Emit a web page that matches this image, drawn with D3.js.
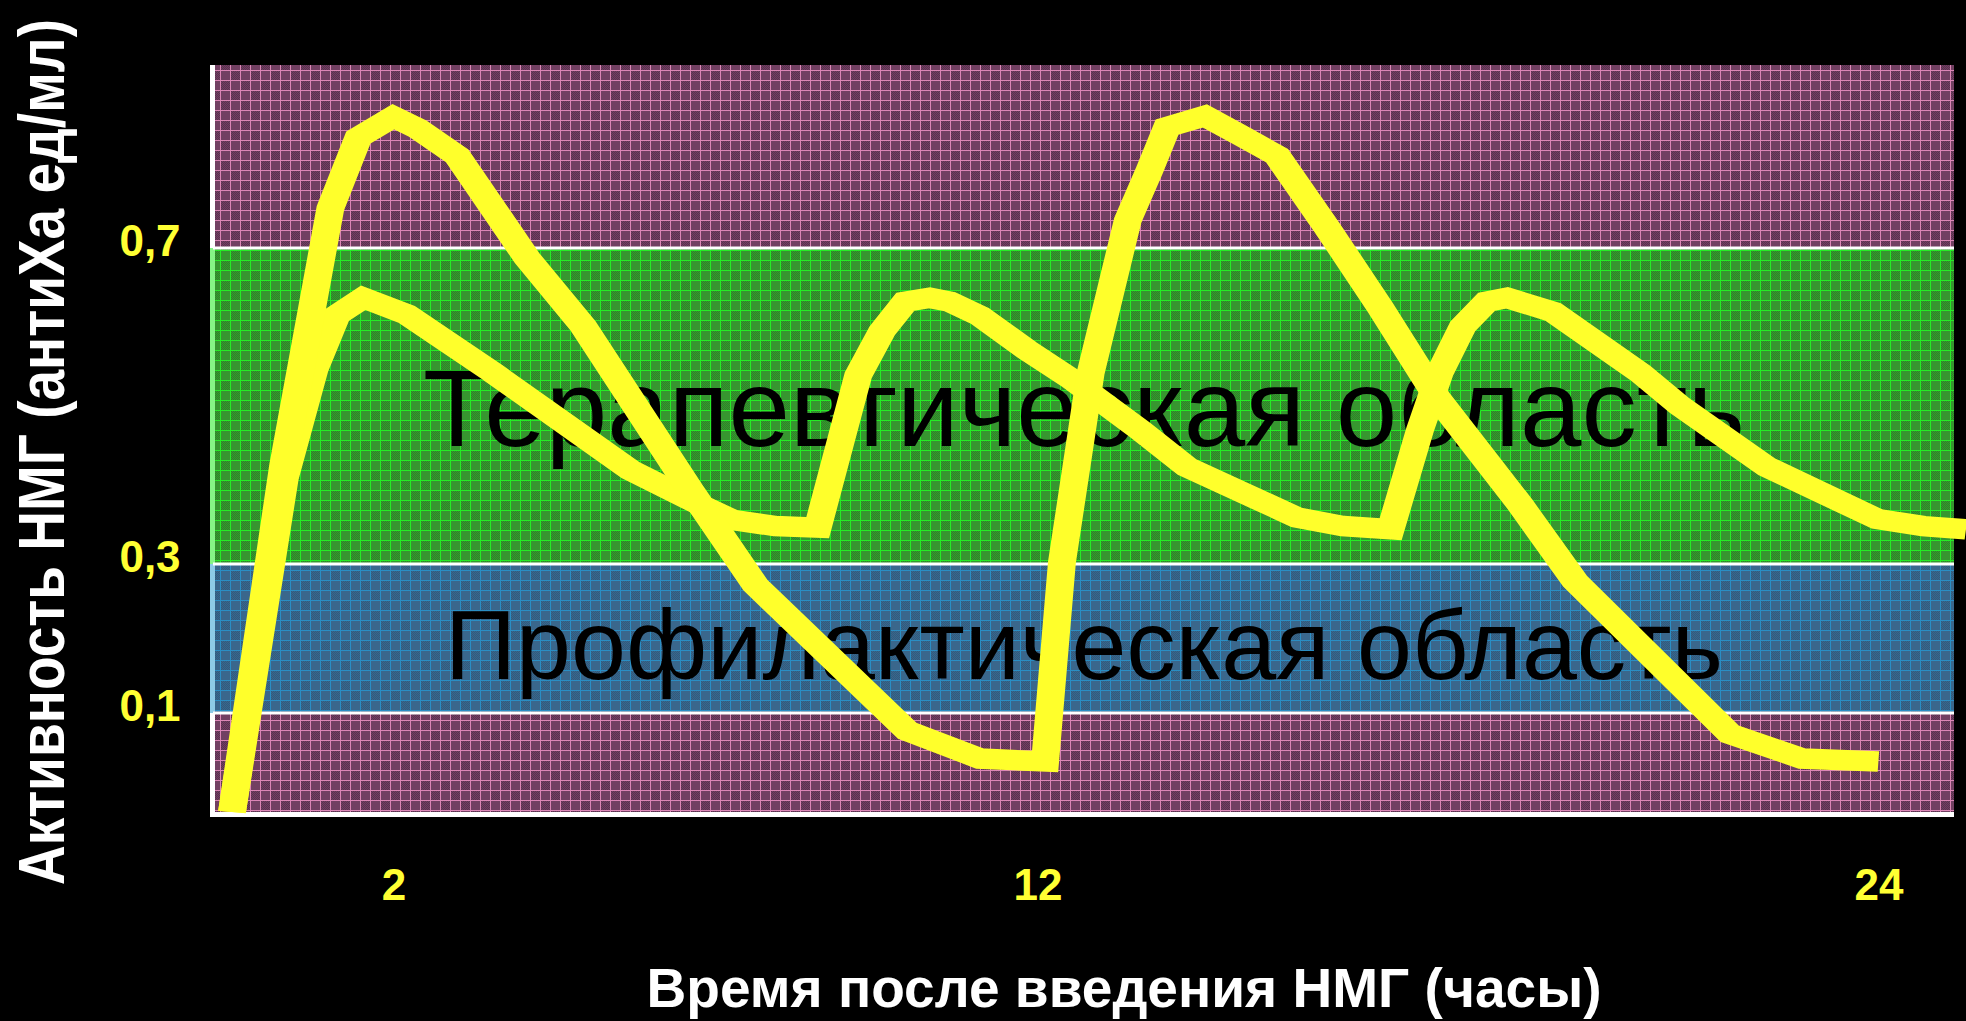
<!DOCTYPE html>
<html>
<head>
<meta charset="utf-8">
<script src="https://cdn.jsdelivr.net/npm/d3@7"></script>
<style>
  body { margin: 0; background: #000; }
  svg { display: block; font-family: 'Liberation Sans', Arial, sans-serif; }
</style>
</head>
<body>
<svg id="chart" width="1966" height="1021"></svg>
<script>
// Axis ticks
var xTicks = [2, 12, 24];
var yTicks = [0.1, 0.3, 0.7];
var yTickLabels = ['0,1', '0,3', '0,7'];

// Activity bands (lower / upper limit of each one)
var bandLimits = [0, 0.1, 0.3, 0.7, 0.93];
var bandKinds = ['pink', 'blue', 'green', 'pink'];
var bandLabels = ['', 'Профилактическая область', 'Терапевтическая область', ''];

// Higher curve: time (hours) and activity (anti-Xa U/ml)
var hoursHigh = [0, 0.64, 1.23, 1.58, 2.02, 2.40, 3.01, 4.10, 4.97, 6.63, 7.64, 10.0, 11.13, 12.13,
  12.37, 12.78, 13.31, 13.62, 13.87, 14.41, 14.91, 15.44, 16.15, 16.91, 17.72, 18.91, 19.69, 21.90, 22.93, 24.02];
var activityHigh = [0.0, 0.425, 0.750, 0.839, 0.865, 0.850, 0.816, 0.687, 0.601, 0.394, 0.272, 0.082, 0.054, 0.051,
  0.302, 0.542, 0.735, 0.798, 0.852, 0.866, 0.842, 0.816, 0.726, 0.625, 0.511, 0.375, 0.277, 0.079, 0.054, 0.051];

// Lower curve
var hoursLow = [0, 0.66, 1.03, 1.31, 1.64, 2.23, 3.57, 5.70, 6.78, 7.28, 7.95, 8.61, 9.24, 9.61, 9.97, 10.35,
  10.66, 11.13, 11.86, 12.49, 13.48, 14.15, 15.72, 16.38, 17.06, 17.48, 17.76, 18.09, 18.43, 18.72, 19.38,
  20.62, 21.19, 22.43, 24.0, 24.66, 25.27];
var activityLow = [0.0, 0.409, 0.546, 0.615, 0.637, 0.616, 0.542, 0.419, 0.375, 0.356, 0.348, 0.346, 0.539,
  0.595, 0.632, 0.637, 0.632, 0.614, 0.571, 0.535, 0.470, 0.423, 0.359, 0.348, 0.344, 0.470, 0.542, 0.601,
  0.632, 0.637, 0.619, 0.542, 0.500, 0.423, 0.357, 0.348, 0.344];

var svg = d3.select('#chart');
var plotLeft = 213, plotRight = 1954;

// Scales (the slide is not evenly spaced, so piecewise scales)
var xScale = d3.scaleLinear().domain([0, 2, 12, 24]).range([232, 392, 1036, 1877]);
var yScale = d3.scaleLinear().domain(bandLimits).range([812, 713, 564, 248, 65]);

// Background
svg.append('rect').attr('width', 1966).attr('height', 1021).attr('fill', '#000');

// Hatched patterns for the bands
var colors = {
  pink:  { base: '#724062', line: '#dc86b6', dot: '#5a3050', edge: '#ffffff' },
  green: { base: '#379630', line: '#25ec25', dot: '#2e8428', edge: '#86f486' },
  blue:  { base: '#3a678c', line: '#2a8ec4', dot: '#315b7e', edge: '#8ecbe6' }
};
var defs = svg.append('defs');
Object.keys(colors).forEach(function (k) {
  var c = colors[k];
  var dither = defs.append('pattern')
    .attr('id', 'dither-' + k)
    .attr('width', 2).attr('height', 2)
    .attr('patternUnits', 'userSpaceOnUse');
  dither.append('rect').attr('width', 1).attr('height', 1).attr('fill', c.dot);
  dither.append('rect').attr('x', 1).attr('y', 1).attr('width', 1).attr('height', 1).attr('fill', c.dot);

  var p = defs.append('pattern')
    .attr('id', 'band-' + k)
    .attr('width', 20).attr('height', 20)
    .attr('patternUnits', 'userSpaceOnUse');
  p.append('rect').attr('width', 20).attr('height', 20).attr('fill', c.base);
  // checker cells
  p.append('rect').attr('x', 1).attr('y', 1).attr('width', 9).attr('height', 9).attr('fill', 'url(#dither-' + k + ')');
  p.append('rect').attr('x', 11).attr('y', 11).attr('width', 9).attr('height', 9).attr('fill', 'url(#dither-' + k + ')');
  // grid lines
  [0, 10].forEach(function (o) {
    p.append('rect').attr('x', 0).attr('y', o).attr('width', 20).attr('height', 1).attr('fill', c.line);
    p.append('rect').attr('x', o).attr('y', 0).attr('width', 1).attr('height', 20).attr('fill', c.line);
  });
});

// Band rectangles
var bands = bandKinds.map(function (kind, i) {
  return { kind: kind, lo: bandLimits[i], hi: bandLimits[i + 1], label: bandLabels[i] };
});

svg.selectAll('.band')
  .data(bands).enter()
  .append('rect')
  .attr('class', 'band')
  .attr('x', plotLeft)
  .attr('y', function (d) { return yScale(d.hi); })
  .attr('width', plotRight - plotLeft)
  .attr('height', function (d) { return yScale(d.lo) - yScale(d.hi); })
  .attr('fill', function (d) { return 'url(#band-' + d.kind + ')'; });

// Axis lines (white)
svg.append('rect').attr('x', 210).attr('y', yScale(bandLimits[4])).attr('width', 5)
  .attr('height', yScale(0) - yScale(bandLimits[4]) + 5).attr('fill', '#fff');
svg.append('rect').attr('x', 210).attr('y', yScale(0)).attr('width', plotRight - 210)
  .attr('height', 5).attr('fill', '#fff');

// Light left edge of the green and blue bands
svg.selectAll('.band-edge')
  .data(bands.filter(function (d) { return d.kind !== 'pink'; })).enter()
  .append('rect')
  .attr('class', 'band-edge')
  .attr('x', 210)
  .attr('y', function (d) { return yScale(d.hi); })
  .attr('width', 5)
  .attr('height', function (d) { return yScale(d.lo) - yScale(d.hi); })
  .attr('fill', function (d) { return colors[d.kind].edge; });

// White separators between bands
svg.selectAll('.sep')
  .data(yTicks).enter()
  .append('rect')
  .attr('class', 'sep')
  .attr('x', plotLeft)
  .attr('y', function (d) { return yScale(d) - 1.5; })
  .attr('width', plotRight - plotLeft)
  .attr('height', 3)
  .attr('fill', '#fff');

// Band names
var labelSizes = { blue: 99, green: 110 };
svg.selectAll('.band-label')
  .data(bands.filter(function (d) { return d.label; })).enter()
  .append('text')
  .attr('class', 'band-label')
  .attr('x', 1084)
  .attr('y', function (d) { return (yScale(d.lo) + yScale(d.hi)) / 2 + 40; })
  .attr('text-anchor', 'middle')
  .attr('font-size', function (d) { return labelSizes[d.kind]; })
  .attr('textLength', function (d) { return d.kind === 'green' ? 1322 : 1278; })
  .attr('lengthAdjust', 'spacingAndGlyphs')
  .attr('fill', '#000')
  .text(function (d) { return d.label; });

// Curves (slide is stretched horizontally, so strokes are wider on steep parts)
var stretch = 1.36;
var line = d3.line()
  .x(function (d) { return xScale(d.h) / stretch; })
  .y(function (d) { return yScale(d.v); });

var series = [
  hoursLow.map(function (h, i) { return { h: h, v: activityLow[i] }; }),
  hoursHigh.map(function (h, i) { return { h: h, v: activityHigh[i] }; })
];

svg.append('g')
  .attr('transform', 'scale(' + stretch + ',1)')
  .selectAll('path')
  .data(series).enter()
  .append('path')
  .attr('d', line)
  .attr('fill', 'none')
  .attr('stroke', '#ffff2b')
  .attr('stroke-width', 20.5)
  .attr('stroke-linejoin', 'miter')
  .attr('stroke-linecap', 'butt');

// Tick labels
svg.selectAll('.ytick')
  .data(yTicks).enter()
  .append('text')
  .attr('class', 'ytick')
  .attr('x', 150)
  .attr('y', function (d) { return yScale(d) - 8; })
  .attr('dominant-baseline', 'central')
  .attr('text-anchor', 'middle')
  .attr('font-size', 44)
  .attr('font-weight', 'bold')
  .attr('fill', '#ffff33')
  .text(function (d, i) { return yTickLabels[i]; });

svg.selectAll('.xtick')
  .data(xTicks).enter()
  .append('text')
  .attr('class', 'xtick')
  .attr('x', function (d) { return xScale(d) + 2; })
  .attr('y', 900)
  .attr('text-anchor', 'middle')
  .attr('font-size', 44)
  .attr('font-weight', 'bold')
  .attr('fill', '#ffff33')
  .text(function (d) { return d; });

// Axis titles
svg.append('text')
  .attr('x', 1124)
  .attr('y', 1007)
  .attr('text-anchor', 'middle')
  .attr('font-size', 55)
  .attr('font-weight', 'bold')
  .attr('textLength', 955)
  .attr('lengthAdjust', 'spacingAndGlyphs')
  .attr('fill', '#fff')
  .text('Время после введения НМГ (часы)');

svg.append('text')
  .attr('transform', 'translate(64,452) scale(1.15,1) rotate(-90)')
  .attr('text-anchor', 'middle')
  .attr('font-size', 56)
  .attr('font-weight', 'bold')
  .attr('textLength', 866)
  .attr('lengthAdjust', 'spacingAndGlyphs')
  .attr('fill', '#fff')
  .text('Активность НМГ (антиХа ед/мл)');
</script>
</body>
</html>
